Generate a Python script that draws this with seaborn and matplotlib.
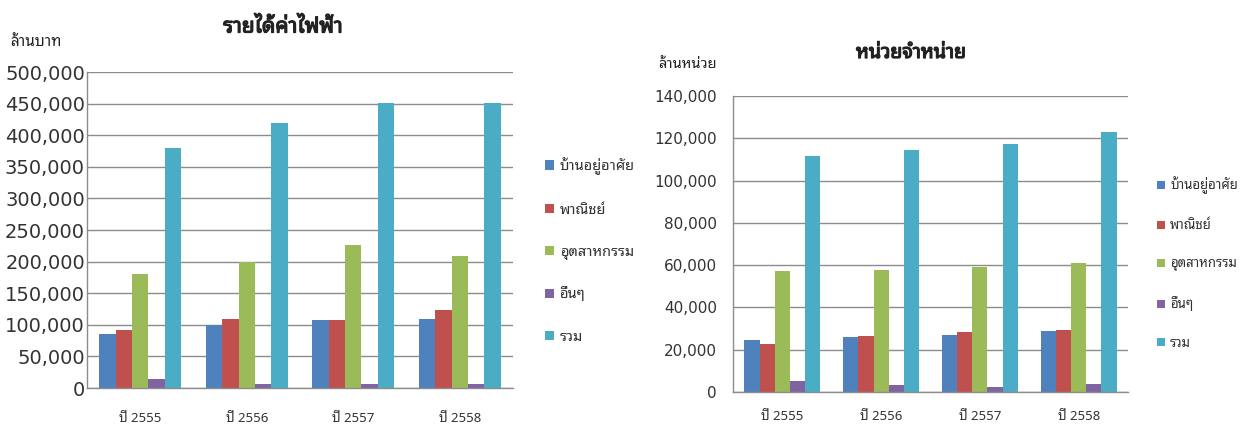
import matplotlib
matplotlib.use("Agg")
import matplotlib.pyplot as plt
import matplotlib.ticker as mticker
import matplotlib.patheffects as pe
import pandas as pd
import seaborn as sns

# Fiscal years and customer groups
years = ["ปี 2555", "ปี 2556", "ปี 2557", "ปี 2558"]
groups = ["บ้านอยู่อาศัย", "พาณิชย์", "อุตสาหกรรม", "อื่นๆ", "รวม"]

# Electricity revenue (million baht), one list per group
revenue_residential = [86000, 99000, 107000, 109000]
revenue_commercial = [92000, 109000, 107000, 123000]
revenue_industrial = [180000, 200000, 227000, 209000]
revenue_other = [15000, 7000, 7000, 7000]
revenue_total = [380000, 419000, 451000, 451000]

# Units sold (million kWh), one list per group
units_residential = [24700, 26000, 27000, 28800]
units_commercial = [22500, 26600, 28200, 29400]
units_industrial = [57400, 57900, 59100, 60900]
units_other = [5200, 3100, 2500, 3800]
units_total = [111500, 114500, 117400, 123000]

palette = ["#4F81BD", "#C0504D", "#9BBB59", "#8064A2", "#4BACC6"]


def long_table(series):
    rows = []
    for g, vals in zip(groups, series):
        for y, v in zip(years, vals):
            rows.append({"year": y, "group": g, "value": v})
    return pd.DataFrame(rows)


revenue = long_table([revenue_residential, revenue_commercial, revenue_industrial,
                      revenue_other, revenue_total])
units = long_table([units_residential, units_commercial, units_industrial,
                    units_other, units_total])

sns.set_theme(style="white")
plt.rcParams["font.family"] = ["DejaVu Sans", "Noto Sans Thai Looped"]
THAI = ["Noto Sans Thai Looped", "DejaVu Sans"]

W, H = 1247, 426
fig = plt.figure(figsize=(W / 100, H / 100), dpi=100)


def px_axes(x0, y0, x1, y1):
    return fig.add_axes([x0 / W, 1 - y1 / H, (x1 - x0) / W, (y1 - y0) / H])


grid_color = "#8c8c8c"
text_color = "#333333"
title_color = "#222222"
# heavier strokes for the chart titles
bold = [pe.withStroke(linewidth=0.9, foreground=title_color)]


def draw(ax, df, ymax, step, tick_size, ypad, xpad, legend_anchor, legend_size, spacing):
    sns.barplot(data=df, x="year", y="value", hue="group", hue_order=groups,
                order=years, palette=palette, saturation=1, width=0.77,
                errorbar=None, ax=ax, edgecolor="none", linewidth=0)
    ax.set_ylim(0, ymax)
    ax.set_yticks(range(0, ymax + 1, step))
    ax.yaxis.set_major_formatter(mticker.FuncFormatter(lambda v, p: f"{int(v):,}"))
    ax.yaxis.grid(True, color=grid_color, linewidth=1.0)
    ax.set_axisbelow(True)
    ax.set_xlabel("")
    ax.set_ylabel("")
    for s in ("top", "right"):
        ax.spines[s].set_visible(False)
    for s in ("left", "bottom"):
        ax.spines[s].set_color(grid_color)
        ax.spines[s].set_linewidth(1.0)
    ax.tick_params(axis="both", length=0, colors=text_color)
    ax.tick_params(axis="y", labelsize=tick_size, pad=ypad)
    ax.tick_params(axis="x", pad=xpad)
    for lab in ax.get_xticklabels():
        lab.set_fontfamily(THAI)
        lab.set_fontsize(9.5)
    handles, labels = ax.get_legend_handles_labels()
    ax.legend_.remove()
    fig.legend(handles, labels, loc="center left", bbox_to_anchor=legend_anchor,
               frameon=False, handlelength=0.6, handleheight=0.6,
               handletextpad=0.4, labelspacing=spacing, borderaxespad=0,
               borderpad=0, prop={"family": THAI, "size": legend_size},
               labelcolor=text_color)


ax1 = px_axes(87, 72, 513, 388)
draw(ax1, revenue, 500000, 50000, 14, 1.5, 17, (545 / W, 1 - 251 / H), 10.5, 1.88)
fig.text(283 / W, 1 - 27 / H, "รายได้ค่าไฟฟ้า", ha="center", va="center",
         fontsize=15, family=THAI, color=title_color, path_effects=bold)
fig.text(10 / W, 1 - 42 / H, "ล้านบาท", ha="left", va="center",
         fontsize=11, family=THAI, color=title_color)

ax2 = px_axes(733, 96, 1128, 392)
draw(ax2, units, 140000, 20000, 11, 11.5, 13, (1157 / W, 1 - 263 / H), 9.5, 1.9)
fig.text(911 / W, 1 - 53 / H, "หน่วยจำหน่าย", ha="center", va="center",
         fontsize=14, family=THAI, color=title_color, path_effects=bold)
fig.text(658 / W, 1 - 65 / H, "ล้านหน่วย", ha="left", va="center",
         fontsize=10.5, family=THAI, color=title_color)

fig.savefig("out.png", dpi=100)
